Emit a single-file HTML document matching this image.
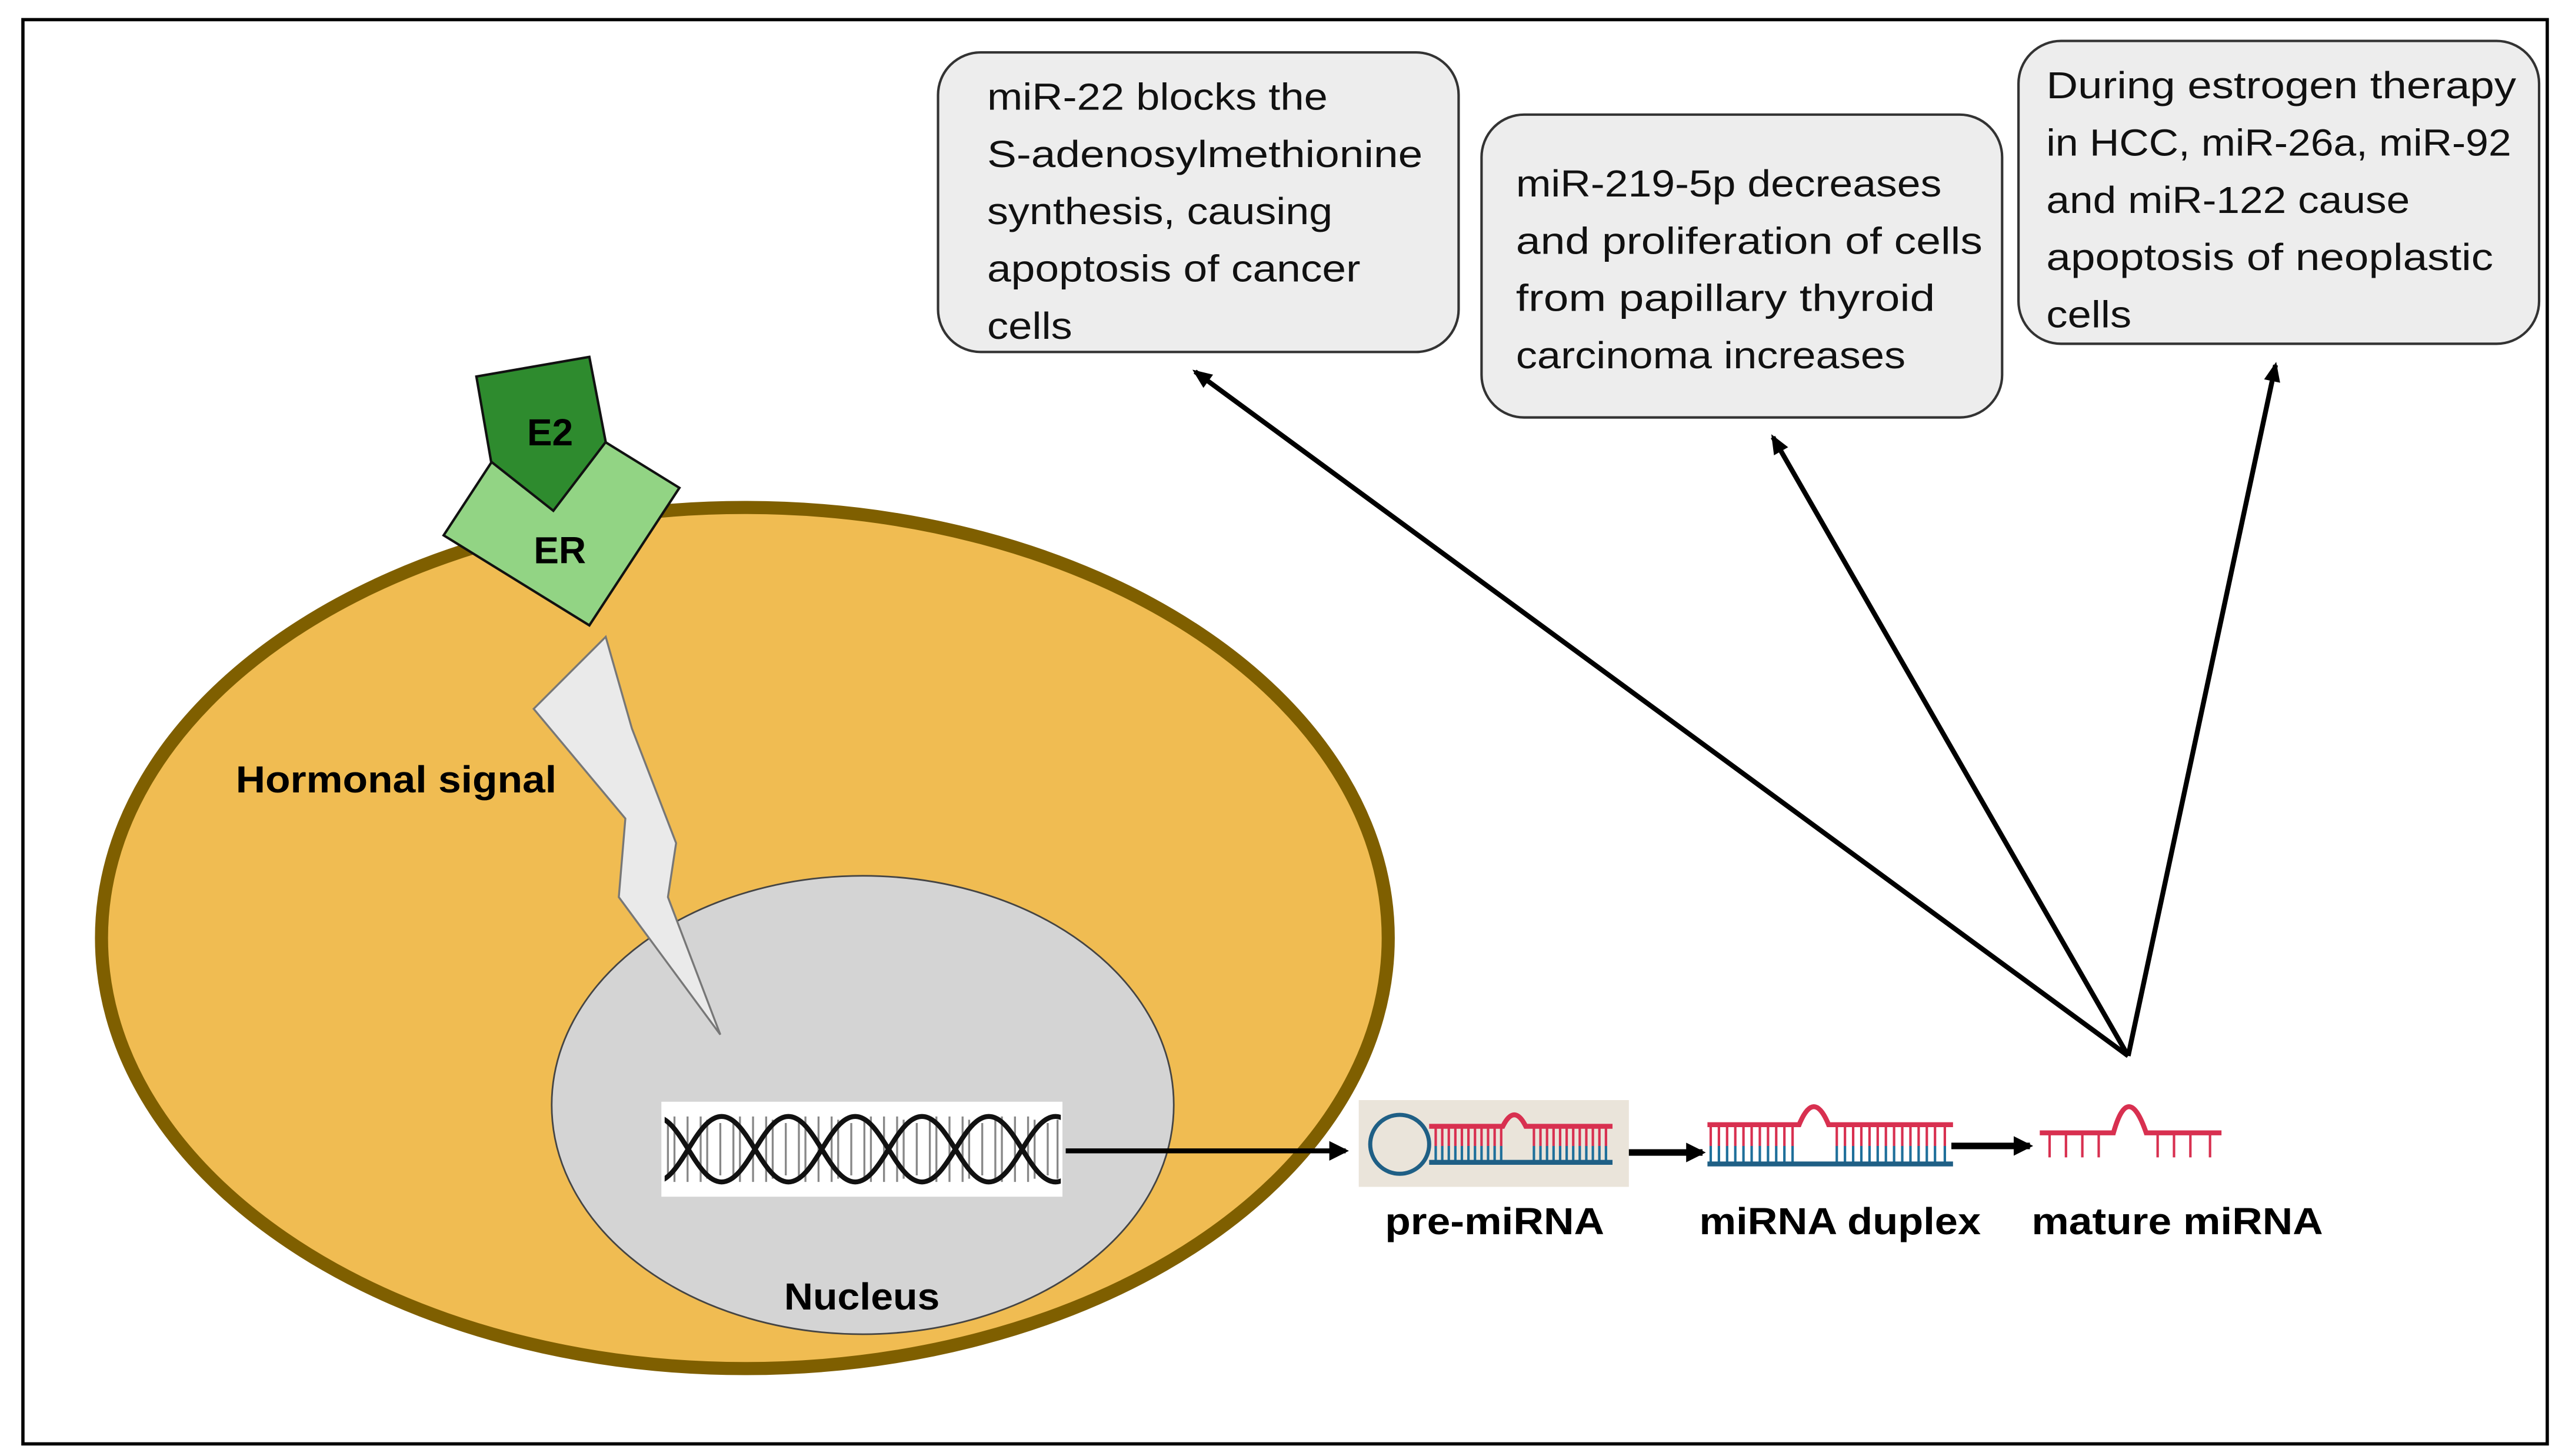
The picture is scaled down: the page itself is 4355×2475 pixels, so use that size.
<!DOCTYPE html>
<html><head><style>
html,body{margin:0;padding:0;background:#fff;}
svg{display:block;}
text{font-family:"Liberation Sans",sans-serif;}
</style></head><body>
<svg width="4355" height="2475" viewBox="0 0 1565 889.4" preserveAspectRatio="none" xmlns="http://www.w3.org/2000/svg">
<defs>
<marker id="ah" markerWidth="12" markerHeight="12" refX="10" refY="6" orient="auto" markerUnits="userSpaceOnUse" viewBox="0 0 12 12">
<path d="M0,1 L12,6 L0,11 z" fill="#000"/>
</marker>
<marker id="ah2" markerWidth="12" markerHeight="12" refX="10" refY="6" orient="auto" markerUnits="userSpaceOnUse" viewBox="0 0 12 12">
<path d="M0,0 L12,6 L0,12 z" fill="#000"/>
</marker>
<clipPath id="dc"><rect x="406" y="676" width="242" height="52"/></clipPath>
</defs>
<rect x="0" y="0" width="1565" height="890" fill="#fff"/>
<rect x="14" y="12" width="1542" height="870" fill="none" stroke="#000" stroke-width="2"/>

<!-- cell -->
<ellipse cx="455" cy="573" rx="393" ry="263" fill="#F0BC52" stroke="#7F5F00" stroke-width="8"/>
<ellipse cx="527" cy="675" rx="190" ry="140" fill="#D4D4D4" stroke="#444" stroke-width="1"/>

<!-- DNA -->
<rect x="404" y="673" width="245" height="58" fill="#fff"/>
<g clip-path="url(#dc)">
<g stroke="#888" stroke-width="1.2">
<path d="M408,684V720 M412,682V722 M420,682V722 M428,682V722 M432,684V720 M440,686V718 M448,684V720 M452,682V722 M460,682V722 M468,682V722 M472,684V720 M480,686V718 M488,684V720 M492,682V722 M500,682V722 M508,682V722 M512,684V720 M520,686V718 M528,684V720 M532,682V722 M540,682V722 M548,682V722 M552,684V720 M560,686V718 M568,684V720 M572,682V722 M580,682V722 M588,682V722 M592,684V720 M600,686V718 M608,684V720 M612,682V722 M620,682V722 M628,682V722 M632,684V720 M640,686V718 M646,684V720"/>
</g>
<g fill="none" stroke="#111" stroke-width="3">
<path d="M400,682 c16,0 24.8,40 40.8,40 s24.8,-40 40.8,-40 s24.8,40 40.8,40 s24.8,-40 40.8,-40 s24.8,40 40.8,40 s24.8,-40 40.8,-40 s24.8,40 40.8,40"/>
<path d="M400,722 c16,0 24.8,-40 40.8,-40 s24.8,40 40.8,40 s24.8,-40 40.8,-40 s24.8,40 40.8,40 s24.8,-40 40.8,-40 s24.8,40 40.8,40 s24.8,-40 40.8,-40"/>
</g>
</g>

<!-- lightning -->
<polygon points="370,389 326,433 382,500 378,548 440,632 408,548 413,515 386,445" fill="#EAEAEA" stroke="#777" stroke-width="1.2"/>

<!-- receptor -->
<polygon points="271,327 326,243 415,298 360,382" fill="#92D484" stroke="#111" stroke-width="1.5"/>
<polygon points="291,230 360,218 370,270 338,312 300,282" fill="#2E8B2E" stroke="#111" stroke-width="1.5"/>
<text x="336" y="272" font-size="23" font-weight="bold" text-anchor="middle">E2</text>
<text x="342" y="344" font-size="23" font-weight="bold" text-anchor="middle">ER</text>

<text x="144" y="484" font-size="23" font-weight="bold" textLength="196" lengthAdjust="spacingAndGlyphs">Hormonal signal</text>
<text x="479" y="800" font-size="23" font-weight="bold" textLength="95" lengthAdjust="spacingAndGlyphs">Nucleus</text>

<!-- horizontal arrows -->
<line x1="651" y1="703" x2="822" y2="703" stroke="#000" stroke-width="3" marker-end="url(#ah2)"/>
<line x1="992" y1="704" x2="1040" y2="704" stroke="#000" stroke-width="4" marker-end="url(#ah2)"/>
<line x1="1192" y1="700" x2="1240" y2="700" stroke="#000" stroke-width="4" marker-end="url(#ah2)"/>

<!-- pre-miRNA -->
<rect x="830" y="672" width="165" height="53" fill="#EAE4DA"/>
<circle cx="855" cy="699" r="18" fill="none" stroke="#1F5F85" stroke-width="2.5"/>
<g stroke="#D83050" stroke-width="1.5">
<path d="M877,688V700 M881,688V700 M885,688V700 M889,688V700 M893,688V700 M897,688V700 M901,688V700 M905,688V700 M909,688V700 M913,688V700 M917,688V700 M937,688V700 M941,688V700 M945,688V700 M949,688V700 M953,688V700 M957,688V700 M961,688V700 M965,688V700 M969,688V700 M973,688V700 M977,688V700 M981,688V700"/>
</g>
<g stroke="#1F6F9A" stroke-width="1.5">
<path d="M877,700V710 M881,700V710 M885,700V710 M889,700V710 M893,700V710 M897,700V710 M901,700V710 M905,700V710 M909,700V710 M913,700V710 M917,700V710 M937,700V710 M941,700V710 M945,700V710 M949,700V710 M953,700V710 M957,700V710 M961,700V710 M965,700V710 M969,700V710 M973,700V710 M977,700V710 M981,700V710"/>
</g>
<path d="M873,688 H918 Q925,674 932,688 H985" fill="none" stroke="#D83050" stroke-width="3"/>
<line x1="873" y1="710" x2="985" y2="710" stroke="#1F5F85" stroke-width="3"/>

<!-- duplex -->
<g stroke="#D83050" stroke-width="1.5">
<path d="M1045,688V700 M1050,688V700 M1055,688V700 M1060,688V700 M1065,688V700 M1070,688V700 M1075,688V700 M1080,688V700 M1085,688V700 M1090,688V700 M1095,688V700 M1122,688V700 M1127,688V700 M1132,688V700 M1137,688V700 M1142,688V700 M1147,688V700 M1152,688V700 M1157,688V700 M1162,688V700 M1167,688V700 M1172,688V700 M1177,688V700 M1182,688V700 M1188,688V700"/>
</g>
<g stroke="#1F6F9A" stroke-width="1.5">
<path d="M1045,700V711 M1050,700V711 M1055,700V711 M1060,700V711 M1065,700V711 M1070,700V711 M1075,700V711 M1080,700V711 M1085,700V711 M1090,700V711 M1095,700V711 M1122,700V711 M1127,700V711 M1132,700V711 M1137,700V711 M1142,700V711 M1147,700V711 M1152,700V711 M1157,700V711 M1162,700V711 M1167,700V711 M1172,700V711 M1177,700V711 M1182,700V711 M1188,700V711"/>
</g>
<path d="M1043,687 H1099 Q1108,665 1117,687 H1193" fill="none" stroke="#D83050" stroke-width="3"/>
<line x1="1043" y1="711" x2="1193" y2="711" stroke="#1F5F85" stroke-width="3"/>

<!-- mature -->
<g stroke="#D83050" stroke-width="1.5">
<path d="M1252,692V707 M1262,692V707 M1272,692V707 M1282,692V707 M1318,692V707 M1328,692V707 M1338,692V707 M1350,692V707"/>
</g>
<path d="M1246,692 H1291 Q1300,660 1311,692 H1357" fill="none" stroke="#D83050" stroke-width="3"/>

<g font-size="23" font-weight="bold">
<text x="846" y="754" textLength="134" lengthAdjust="spacingAndGlyphs">pre-miRNA</text>
<text x="1038" y="754" textLength="172" lengthAdjust="spacingAndGlyphs">miRNA duplex</text>
<text x="1241" y="754" textLength="178" lengthAdjust="spacingAndGlyphs">mature miRNA</text>
</g>

<!-- diagonal arrows -->
<g stroke="#000" stroke-width="3" marker-end="url(#ah)">
<line x1="1300" y1="645" x2="730" y2="227"/>
<line x1="1300" y1="645" x2="1083" y2="267"/>
<line x1="1300" y1="645" x2="1390" y2="223"/>
</g>

<!-- boxes -->
<rect x="573" y="32" width="318" height="183" rx="26" fill="#EDEDED" stroke="#333" stroke-width="1.5"/>
<rect x="905" y="70" width="318" height="185" rx="26" fill="#EDEDED" stroke="#333" stroke-width="1.5"/>
<rect x="1233" y="25" width="318" height="185" rx="26" fill="#EDEDED" stroke="#333" stroke-width="1.5"/>
<g font-size="23" fill="#111">
<text x="603" y="67" textLength="208" lengthAdjust="spacingAndGlyphs">miR-22 blocks the</text>
<text x="603" y="102" textLength="266" lengthAdjust="spacingAndGlyphs">S-adenosylmethionine</text>
<text x="603" y="137" textLength="211" lengthAdjust="spacingAndGlyphs">synthesis, causing</text>
<text x="603" y="172" textLength="228" lengthAdjust="spacingAndGlyphs">apoptosis of cancer</text>
<text x="603" y="207" textLength="52" lengthAdjust="spacingAndGlyphs">cells</text>

<text x="926" y="120" textLength="260" lengthAdjust="spacingAndGlyphs">miR-219-5p decreases</text>
<text x="926" y="155" textLength="285" lengthAdjust="spacingAndGlyphs">and proliferation of cells</text>
<text x="926" y="190" textLength="256" lengthAdjust="spacingAndGlyphs">from papillary thyroid</text>
<text x="926" y="225" textLength="238" lengthAdjust="spacingAndGlyphs">carcinoma increases</text>

<text x="1250" y="60" textLength="287" lengthAdjust="spacingAndGlyphs">During estrogen therapy</text>
<text x="1250" y="95" textLength="284" lengthAdjust="spacingAndGlyphs">in HCC, miR-26a, miR-92</text>
<text x="1250" y="130" textLength="222" lengthAdjust="spacingAndGlyphs">and miR-122 cause</text>
<text x="1250" y="165" textLength="273" lengthAdjust="spacingAndGlyphs">apoptosis of neoplastic</text>
<text x="1250" y="200" textLength="52" lengthAdjust="spacingAndGlyphs">cells</text>
</g>
</svg>
</body></html>
